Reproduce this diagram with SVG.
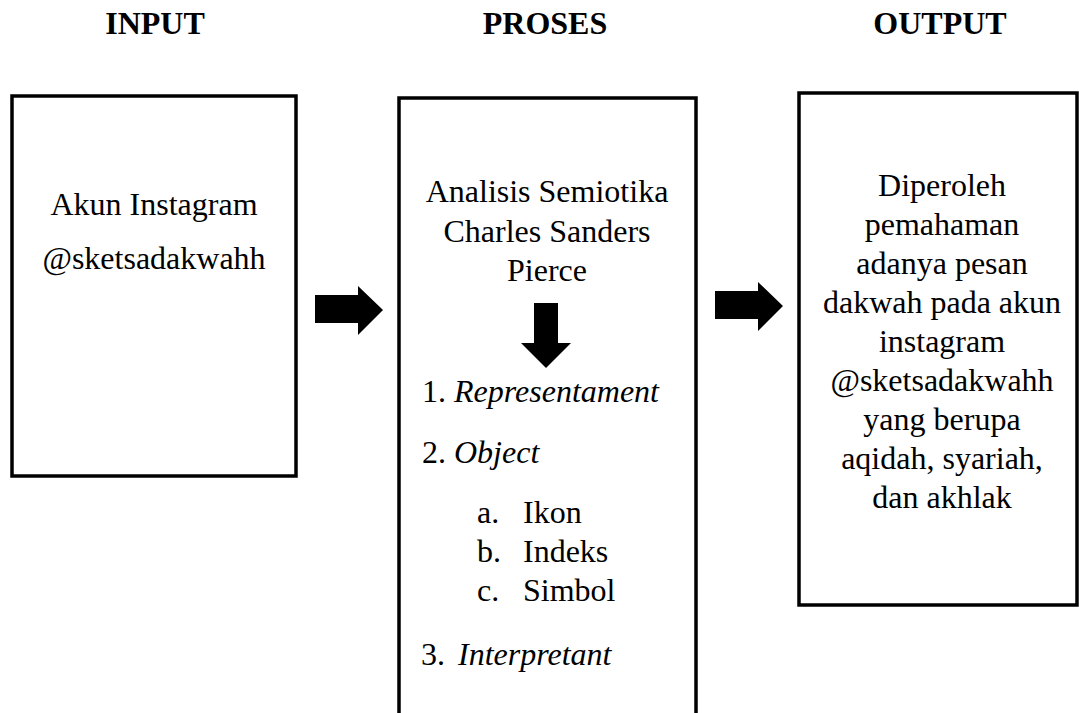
<svg xmlns="http://www.w3.org/2000/svg" width="1079" height="713" viewBox="0 0 1079 713">
<style>
.box{fill:#fff;stroke:#000;stroke-width:3.5}
.t{font-family:"Liberation Serif","Times New Roman",serif;font-size:32px;fill:#000}
.c{text-anchor:middle}
.h{font-weight:bold}
.i{font-style:italic}
.arr{fill:#000}
</style>
<rect width="1079" height="713" fill="#fff"/>
<g id="titles">
<text class="t h c" x="155" y="34">INPUT</text>
<text class="t h c" x="545" y="34">PROSES</text>
<text class="t h c" x="940" y="34">OUTPUT</text>
</g>
<g id="input">
<rect class="box" x="12" y="96" width="284" height="380"/>
<text class="t c" x="154" y="215">Akun Instagram</text>
<text class="t c" x="154" y="269">@sketsadakwahh</text>
</g>
<g id="proses">
<rect class="box" x="399" y="98" width="297" height="630"/>
<text class="t c" x="547" y="202">Analisis Semiotika</text>
<text class="t c" x="547" y="242">Charles Sanders</text>
<text class="t c" x="547" y="281">Pierce</text>
<polygon class="arr" points="534,303 558,303 558,343 571,343 546,368 521,343 534,343"/>
<text class="t" x="422" y="402">1. <tspan class="i">Representament</tspan></text>
<text class="t" x="422" y="463">2. <tspan class="i">Object</tspan></text>
<text class="t" x="477" y="523">a.</text><text class="t" x="523" y="523">Ikon</text>
<text class="t" x="477" y="562">b.</text><text class="t" x="523" y="562">Indeks</text>
<text class="t" x="477" y="601">c.</text><text class="t" x="523" y="601">Simbol</text>
<text class="t" x="421" y="665">3. <tspan class="i" x="458">Interpretant</tspan></text>
</g>
<g id="output">
<rect class="box" x="799" y="93" width="278" height="512"/>
<text class="t c" x="942" y="196">Diperoleh</text>
<text class="t c" x="942" y="235">pemahaman</text>
<text class="t c" x="942" y="274">adanya pesan</text>
<text class="t c" x="942" y="313">dakwah pada akun</text>
<text class="t c" x="942" y="352">instagram</text>
<text class="t c" x="942" y="391">@sketsadakwahh</text>
<text class="t c" x="942" y="430">yang berupa</text>
<text class="t c" x="942" y="469">aqidah, syariah,</text>
<text class="t c" x="942" y="508">dan akhlak</text>
</g>
<g id="connectors">
<polygon class="arr" points="315,295 358,295 358,286 383,310 358,335 358,323 315,323"/>
<polygon class="arr" points="715,291 758,291 758,282 783,306 758,331 758,319 715,319"/>
</g>
</svg>
